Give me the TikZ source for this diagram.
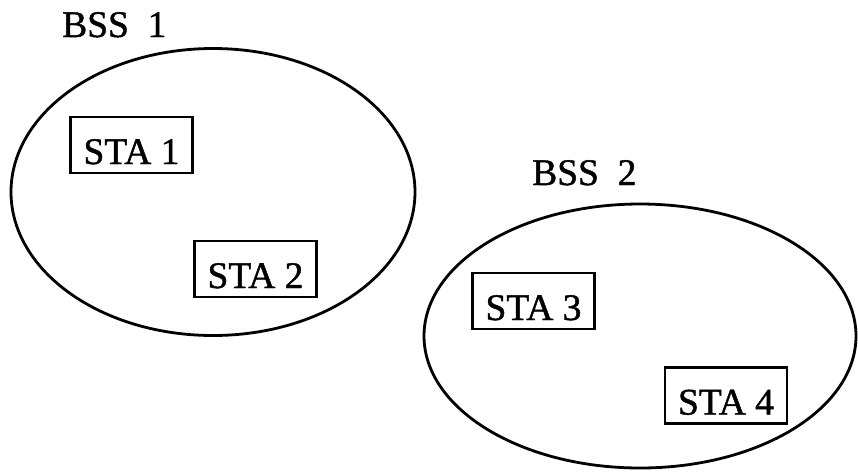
\documentclass[tikz,border=0pt]{standalone}
\usepackage{fontspec}
\setmainfont[FakeBold=1.2]{Liberation Serif}
\usetikzlibrary{shapes.geometric}

\tikzset{
    bss/.style={draw, ellipse, line width=2.8pt, inner sep=0pt},
    sta/.style={draw, rectangle, line width=2.8pt, inner xsep=13pt, inner ysep=0pt,
        text height=47pt, text depth=9pt},
    bsslabel/.style={anchor=base west, inner sep=0pt}
}

\begin{document}
\begin{tikzpicture}[x=1pt, y=-1pt, font=\fontsize{37.5}{40}\selectfont]
    \useasboundingbox (0,0) rectangle (858,472);

    % the two basic service sets
    \node[bss, minimum width=404pt, minimum height=287pt] (bss1) at (213,192) {};
    \node[bss, minimum width=432pt, minimum height=264pt] (bss2) at (640,336) {};

    \node[bsslabel] (lbl1) at (62,37) {BSS\ \ 1};
    \node[bsslabel] (lbl2) at (532,185) {BSS\ \ 2};

    % stations
    \node[sta] (sta1) at (131.5,145) {STA 1};
    \node[sta] (sta2) at (255.5,269) {STA 2};
    \node[sta] (sta3) at (533.5,301) {STA 3};
    \node[sta] (sta4) at (726,395.5) {STA 4};
\end{tikzpicture}
\end{document}
